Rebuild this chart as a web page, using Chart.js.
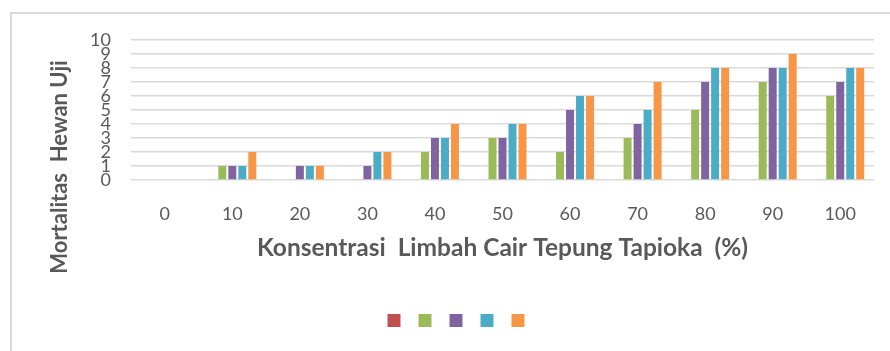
<!DOCTYPE html>
<html>
<head>
<meta charset="utf-8">
<script src="https://cdn.jsdelivr.net/npm/chart.js@4"></script>
<style>
  html, body { margin: 0; padding: 0; background: #fff; }
  #wrap { position: relative; width: 890px; height: 351px; overflow: hidden; }
  #frame { position: absolute; left: 10px; top: 12px; width: 900px; height: 400px;
           border-left: 2px solid #d9d9d9; border-top: 2px solid #d9d9d9; }
  #rendcont { position: absolute; left: 0; top: 0; }
</style>
</head>
<body>
<div id="wrap">
  <div id="frame"></div>
  <canvas id="rendcont" width="890" height="351"></canvas>
</div>
<script>
// konsentrasi (%) on x, mortalitas on y
let categories = ["0", "10", "20", "30", "40", "50", "60", "70", "80", "90", "100"];
let seriesRed    = [0, 0, 0, 0, 0, 0, 0, 0, 0, 0, 0];
let seriesGreen  = [0, 1, 0, 0, 2, 3, 2, 3, 5, 7, 6];
let seriesPurple = [0, 1, 1, 1, 3, 3, 5, 4, 7, 8, 7];
let seriesBlue   = [0, 1, 1, 2, 3, 4, 6, 5, 8, 8, 8];
let seriesOrange = [0, 2, 1, 2, 4, 4, 6, 7, 8, 9, 8];
let yTicks = [0, 1, 2, 3, 4, 5, 6, 7, 8, 9, 10];

let ctx = document.getElementById("rendcont");
let cont = ctx.getContext("2d");
Chart.defaults.font.family = "Lato";
Chart.defaults.color = "#595959";

const fnt = "Lato";

// y title sits lower than the plot centre, like the original
let yTitle = {
  id: "yTitle",
  afterDraw(chart) {
    let c = chart.ctx;
    c.save();
    c.translate(60, 167);
    c.rotate(-Math.PI / 2);
    c.font = "bold 22px " + fnt;
    c.fillStyle = "#595959";
    c.textAlign = "center";
    c.textBaseline = "middle";
    c.fillText("Mortalitas  Hewan Uji", 0, 0);
    c.restore();
  }
};

let cht = new Chart(cont, {
  type: "bar",
  data: {
    labels: categories,
    datasets: [
      { label: "", data: seriesRed, backgroundColor: "#C0504D" },
      { label: "", data: seriesGreen, backgroundColor: "#9BBB59" },
      { label: "", data: seriesPurple, backgroundColor: "#8064A2" },
      { label: "", data: seriesBlue, backgroundColor: "#4BACC6" },
      { label: "", data: seriesOrange, backgroundColor: "#F79646" }
    ]
  },
  options: {
    responsive: false,
    animation: false,
    datasets: { bar: { categoryPercentage: 0.74, barPercentage: 0.8, borderWidth: 0 } },
    layout: { padding: { left: 44, top: 40, right: 16, bottom: 14 } },
    scales: {
      x: {
        grid: { display: false, drawTicks: false },
        border: { display: false },
        ticks: { font: { size: 18, family: fnt }, color: "#595959", padding: 23 },
        title: {
          display: true,
          text: "Konsentrasi  Limbah Cair Tepung Tapioka  (%)",
          font: { size: 24.5, weight: "bold", family: fnt },
          color: "#595959",
          padding: { top: 12, bottom: 39 }
        },
        afterFit: (scale) => { scale.height = 122; }
      },
      y: {
        min: 0, max: 10,
        afterBuildTicks: (scale) => { scale.ticks = yTicks.map(v => ({ value: v })); },
        grid: { color: "#d9d9d9", lineWidth: 1.5, drawTicks: false },
        border: { display: false },
        ticks: { autoSkip: false, font: { size: 18, family: fnt }, color: "#595959", padding: 20 },
        afterFit: (scale) => { scale.width = 87; }
      }
    },
    plugins: {
      tooltip: { enabled: false },
      legend: {
        position: "bottom",
        labels: { boxWidth: 13, boxHeight: 13, padding: 12, font: { size: 12 } }
      }
    }
  },
  plugins: [yTitle]
});
</script>
</body>
</html>
